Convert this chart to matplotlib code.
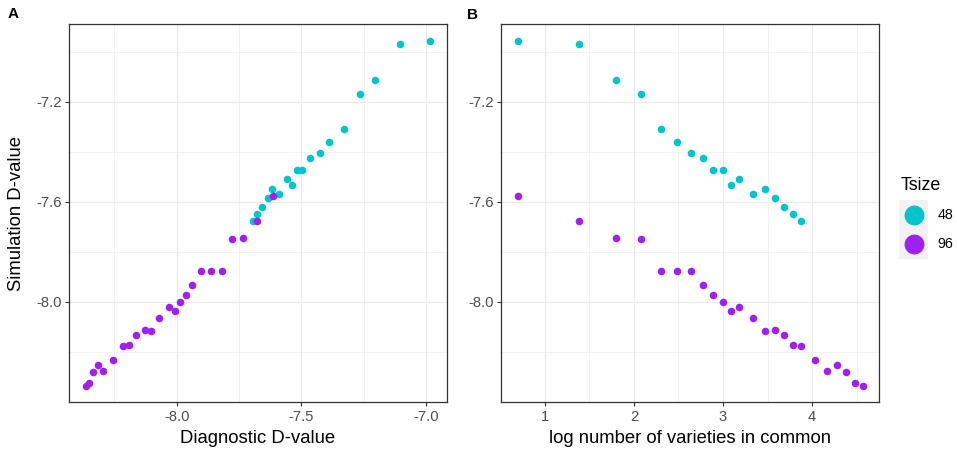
import numpy as np
import matplotlib
matplotlib.use("Agg")
import matplotlib.pyplot as plt
from matplotlib.ticker import FixedLocator

plt.rcParams['font.family'] = ['Liberation Sans', 'DejaVu Sans']

# ---------------- data ----------------
# Tsize = 48
sim48 = [-6.958, -6.968, -7.114, -7.168, -7.308, -7.360, -7.406, -7.426, -7.472,
         -7.474, -7.533, -7.509, -7.568, -7.549, -7.584, -7.622, -7.650, -7.678]
diag48 = [-6.983, -7.103, -7.202, -7.263, -7.327, -7.388, -7.426, -7.465, -7.496,
          -7.518, -7.536, -7.556, -7.590, -7.616, -7.634, -7.657, -7.677, -7.692]
logn48 = [0.693, 1.386, 1.794, 2.079, 2.303, 2.487, 2.640, 2.770, 2.890,
          3.000, 3.090, 3.180, 3.337, 3.468, 3.584, 3.689, 3.783, 3.873]

# Tsize = 96
sim96 = [-7.575, -7.675, -7.743, -7.748, -7.876, -7.876, -7.876, -7.933, -7.972,
         -8.000, -8.036, -8.019, -8.064, -8.116, -8.113, -8.133, -8.173, -8.176,
         -8.231, -8.274, -8.253, -8.281, -8.324, -8.334]
diag96 = [-7.612, -7.676, -7.735, -7.778, -7.818, -7.864, -7.901, -7.937, -7.964,
          -7.987, -8.008, -8.030, -8.072, -8.102, -8.129, -8.162, -8.190, -8.214,
          -8.254, -8.296, -8.317, -8.337, -8.353, -8.365]
logn96 = [0.693, 1.386, 1.794, 2.079, 2.303, 2.487, 2.640, 2.770, 2.890,
          3.000, 3.090, 3.180, 3.337, 3.468, 3.584, 3.689, 3.783, 3.873,
          4.030, 4.165, 4.280, 4.385, 4.483, 4.570]

groups = ["48", "96"]
colors = {"48": "#00C5CD", "96": "#A020F0"}

# ---------------- figure ----------------
W, H = 957, 451
fig = plt.figure(figsize=(W / 100, H / 100), dpi=100)

def px_axes(l, t, r, b):
    return fig.add_axes([l / W, 1 - b / H, (r - l) / W, (b - t) / H])

def ftext(x, y, s, **kw):
    return fig.text(x / W, 1 - y / H, s, **kw)

axA = px_axes(69, 24.3, 446.7, 402.3)
axB = px_axes(501, 24.3, 879.3, 402.3)

ylim = (-8.401, -6.891)
TICK_FS = 10.6
TITLE_FS = 13.3

def style(ax, xmaj, xmin):
    ax.set_facecolor("white")
    for s in ax.spines.values():
        s.set_color("#333333")
        s.set_linewidth(0.9)
    ax.xaxis.set_major_locator(FixedLocator(xmaj))
    ax.xaxis.set_minor_locator(FixedLocator(xmin))
    ax.yaxis.set_major_locator(FixedLocator([-8.0, -7.6, -7.2]))
    ax.yaxis.set_minor_locator(FixedLocator([-8.4, -8.2, -7.8, -7.4, -7.0]))
    ax.grid(which="major", color="#EBEBEB", linewidth=0.9)
    ax.grid(which="minor", color="#EBEBEB", linewidth=0.45)
    ax.set_axisbelow(True)
    ax.tick_params(which="major", length=3.2, width=0.8, color="#333333",
                   labelsize=TICK_FS, labelcolor="#4D4D4D", pad=2)
    ax.tick_params(which="minor", length=0)
    ax.set_ylim(*ylim)

style(axA, [-8.0, -7.5, -7.0], [-8.25, -7.75, -7.25])
axA.set_xlim(-8.4325, -6.916)
axA.set_yticklabels(["-8.0", "-7.6", "-7.2"])
axA.set_xticklabels(["-8.0", "-7.5", "-7.0"])

style(axB, [1, 2, 3, 4], [0.5, 1.5, 2.5, 3.5, 4.5])
axB.set_xlim(0.506, 4.756)
axB.set_yticklabels(["-8.0", "-7.6", "-7.2"])

ms = 30
axA.scatter(diag48, sim48, s=ms, color=colors["48"], linewidths=0, zorder=3)
axA.scatter(diag96, sim96, s=ms, color=colors["96"], linewidths=0, zorder=3)
axB.scatter(logn48, sim48, s=ms, color=colors["48"], linewidths=0, zorder=3)
axB.scatter(logn96, sim96, s=ms, color=colors["96"], linewidths=0, zorder=3)

# axis titles
ftext(258, 443.3, "Diagnostic D-value", fontsize=TITLE_FS, ha="center", va="baseline")
ftext(690, 443.3, "log number of varieties in common", fontsize=TITLE_FS, ha="center", va="baseline")
ftext(16.5, 213.3, "Simulation D-value", fontsize=TITLE_FS, ha="center", va="center", rotation=90)

# panel tags
ftext(7.3, 18.5, "A", fontsize=11, fontweight="bold", ha="left", va="baseline")
ftext(467.3, 19.3, "B", fontsize=11, fontweight="bold", ha="left", va="baseline")

# ---------------- legend ----------------
ftext(900.5, 190, "Tsize", fontsize=12.8, ha="left", va="baseline")
axL = px_axes(899.3, 200, 928.3, 259)
axL.set_facecolor("#F2F2F2")
for s in axL.spines.values():
    s.set_visible(False)
axL.set_xticks([]); axL.set_yticks([])
axL.set_xlim(0, 1); axL.set_ylim(0, 1)
key_y = [0.75, 0.25]
for g, yk in zip(groups, key_y):
    axL.scatter([0.5], [yk], s=205, color=colors[g], linewidths=0)
    ftext(937.3, 200 + (1 - yk) * 59, g, fontsize=10.3, ha="left", va="center")

fig.savefig("out.png", dpi=100)
